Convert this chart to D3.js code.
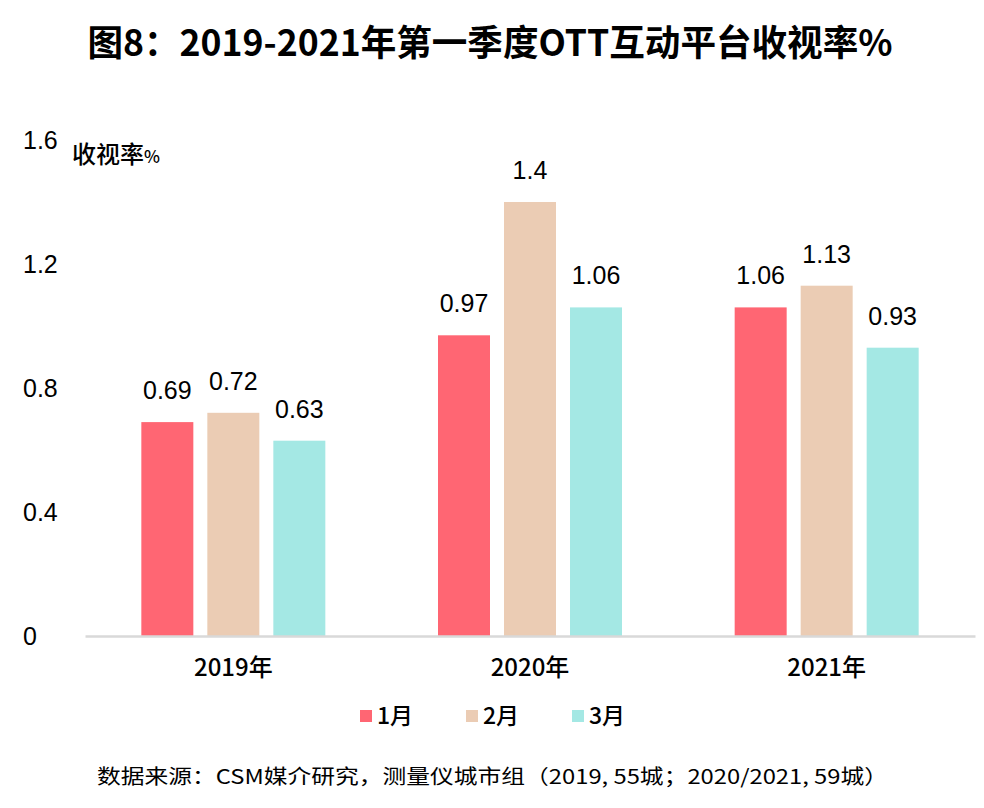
<!DOCTYPE html>
<html><head><meta charset="utf-8">
<script src="https://cdn.jsdelivr.net/npm/d3@7"></script>
<style>body{margin:0;background:#fff}svg{display:block}</style>
</head><body>
<svg id="chart" width="984" height="808"></svg>
<script>
const years = ["2019年", "2020年", "2021年"];
const months = ["1月", "2月", "3月"];
const colors = ["#FF6673", "#EBCCB4", "#A4E8E4"];
const values = {
  "1月": [0.69, 0.97, 1.06],
  "2月": [0.72, 1.4, 1.13],
  "3月": [0.63, 1.06, 0.93]
};
const yTicks = [0, 0.4, 0.8, 1.2, 1.6];
const yTickLabels = ["0", "0.4", "0.8", "1.2", "1.6"];
const title = "图8：2019-2021年第一季度OTT互动平台收视率%";
const source = "数据来源：CSM媒介研究，测量仪城市组（2019, 55城；2020/2021, 59城）";

const svg = d3.select("#chart");
const latin = "'Liberation Sans', Arial, 'Noto Sans CJK SC', sans-serif";
const cjk = "'Noto Sans CJK SC', sans-serif";

const x0 = d3.scaleBand().domain(years).range([85, 975]).paddingInner(0).paddingOuter(0);
const y = d3.scaleLinear().domain([0, 1.6]).range([636, 140]);

// title
svg.append("text").attr("x", 490).attr("y", 56).attr("text-anchor", "middle")
  .attr("font-family", cjk).attr("font-weight", "bold").attr("font-size", 36)
  .attr("textLength", 805).attr("lengthAdjust", "spacingAndGlyphs")
  .attr("fill", "#000").text(title);

// y tick labels
svg.append("g").selectAll("text").data(yTicks).join("text")
  .attr("x", 23).attr("y", d => y(d)).attr("dy", "0.36em")
  .attr("font-family", latin).attr("font-size", 25).attr("fill", "#000")
  .text((d, i) => yTickLabels[i]);

// y axis label
const yl = svg.append("text").attr("x", 72).attr("y", 163).attr("font-family", cjk).attr("font-size", 24).attr("font-weight", 500).attr("fill", "#000");
yl.append("tspan").text("收视率");
yl.append("tspan").attr("font-size", 17).text("%");

// bars
const groups = svg.append("g").selectAll("g").data(years).join("g");
groups.each(function(yr, yi) {
  const cx = x0(yr) + x0.bandwidth() / 2;
  const x1 = d3.scaleBand().domain(months).range([cx - 92, cx + 92]).paddingInner(14 / 66).paddingOuter(0);
  const g = d3.select(this);
  months.forEach((m, mi) => {
    const v = values[m][yi];
    g.append("rect").attr("x", x1(m)).attr("y", y(v)).attr("width", x1.bandwidth())
      .attr("height", y(0) - y(v)).attr("fill", colors[mi]);
    g.append("text").attr("x", x1(m) + x1.bandwidth() / 2).attr("y", y(v) - 23)
      .attr("text-anchor", "middle").attr("font-family", latin).attr("font-size", 25)
      .attr("fill", "#000").text(String(v));
  });
});

// x axis
const xAxis = svg.append("g").attr("transform", "translate(0,636)")
  .call(d3.axisBottom(x0).tickSize(0).tickPadding(0));
xAxis.select(".domain").attr("stroke", "#D9D9D9").attr("stroke-width", 2.5);
xAxis.selectAll("text").attr("y", 31).attr("dy", "0.36em").attr("font-family", cjk)
  .attr("font-size", 24).attr("font-weight", 500).attr("fill", "#000");

// legend
const legend = svg.append("g");
months.forEach((m, i) => {
  const lx = 360 + i * 106;
  legend.append("rect").attr("x", lx).attr("y", 710).attr("width", 12).attr("height", 12).attr("fill", colors[i]);
  legend.append("text").attr("x", lx + 17).attr("y", 716).attr("dy", "0.36em")
    .attr("font-family", cjk).attr("font-size", 23).attr("font-weight", 500).attr("fill", "#000").text(m);
});

// source
svg.append("text").attr("x", 97).attr("y", 784).attr("font-family", cjk).attr("font-size", 20)
  .attr("textLength", 791).attr("lengthAdjust", "spacingAndGlyphs").attr("fill", "#000").text(source);
</script>
</body></html>
